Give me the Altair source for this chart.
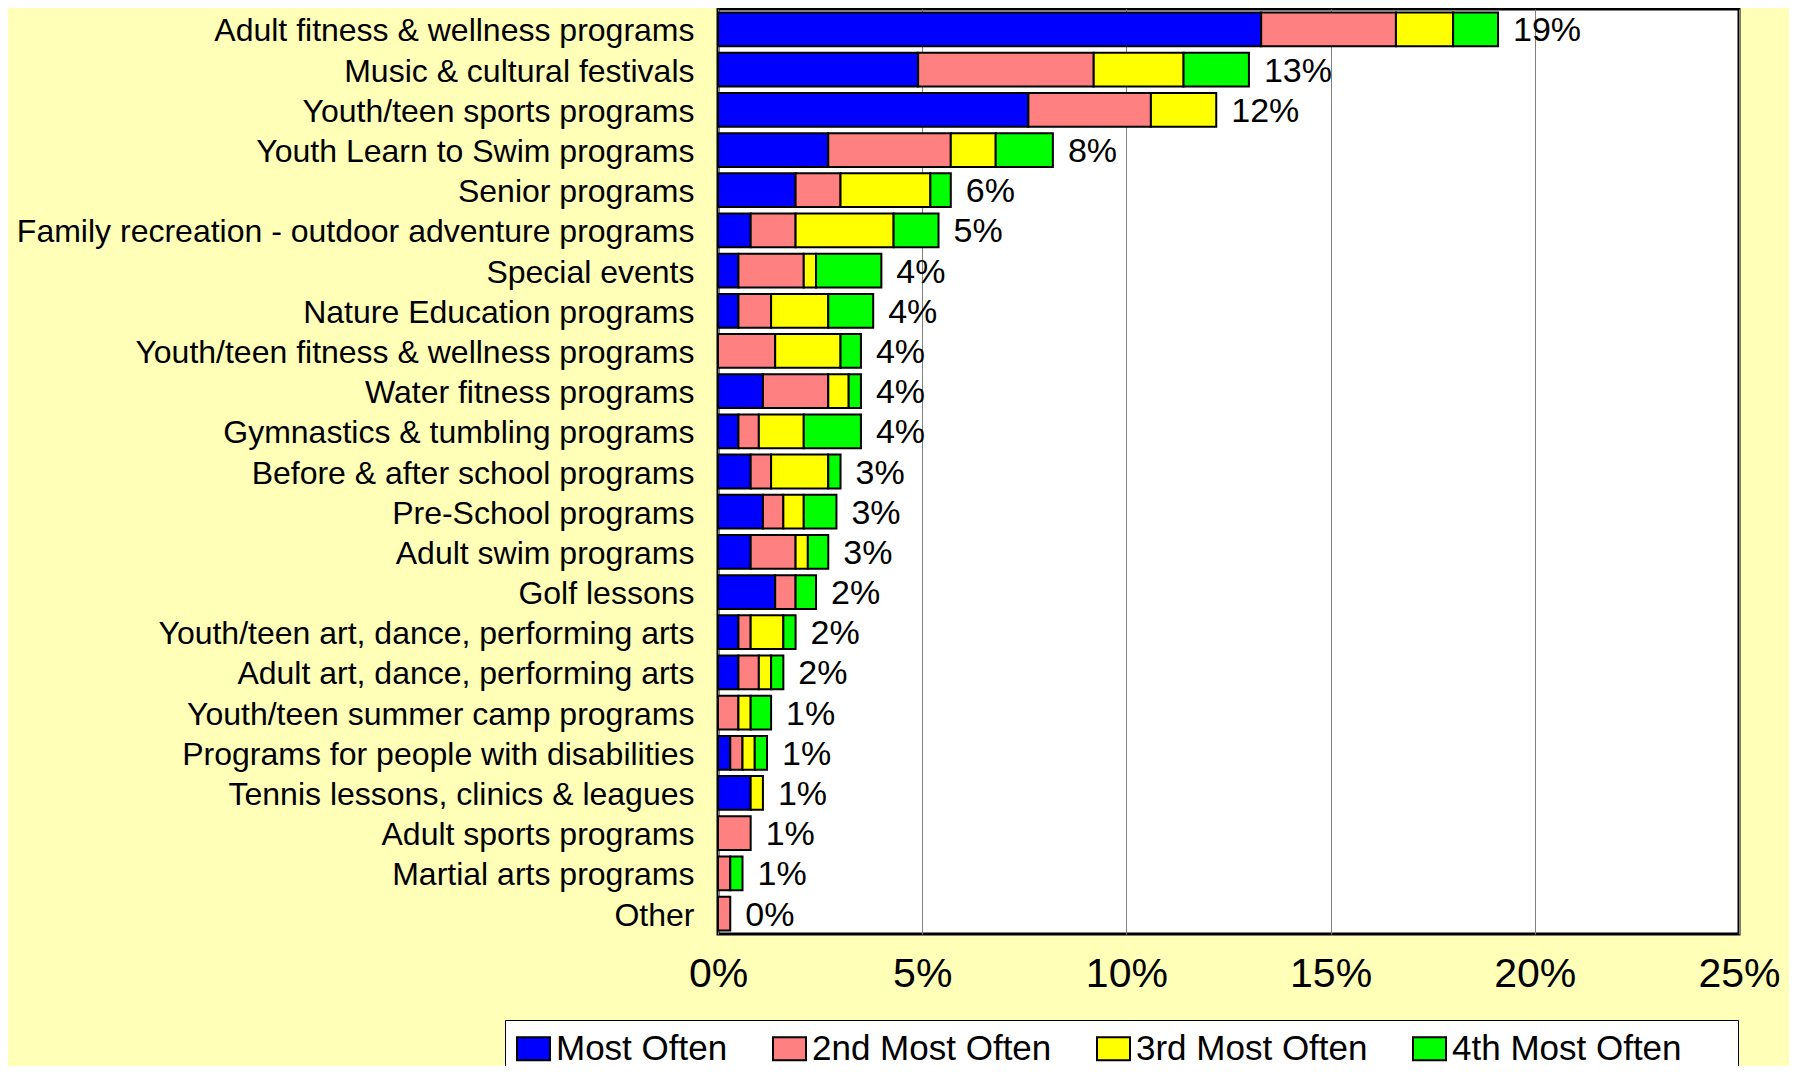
import altair as alt
import pandas as pd

categories = [
    "Adult fitness & wellness programs",
    "Music & cultural festivals",
    "Youth/teen sports programs",
    "Youth Learn to Swim programs",
    "Senior programs",
    "Family recreation - outdoor adventure programs",
    "Special events",
    "Nature Education programs",
    "Youth/teen fitness & wellness programs",
    "Water fitness programs",
    "Gymnastics & tumbling programs",
    "Before & after school programs",
    "Pre-School programs",
    "Adult swim programs",
    "Golf lessons",
    "Youth/teen art, dance, performing arts",
    "Adult art, dance, performing arts",
    "Youth/teen summer camp programs",
    "Programs for people with disabilities",
    "Tennis lessons, clinics & leagues",
    "Adult sports programs",
    "Martial arts programs",
    "Other",
]
series = ["Most Often", "2nd Most Often", "3rd Most Often", "4th Most Often"]
colors = ["#0000FF", "#FF8080", "#FFFF00", "#00FF00"]

most_often = [13.3, 4.9, 7.6, 2.7, 1.9, 0.8, 0.5, 0.5, 0.0, 1.1, 0.5, 0.8, 1.1, 0.8, 1.4, 0.5, 0.5, 0.0, 0.3, 0.8, 0.0, 0.0, 0.0]
second = [3.3, 4.3, 3.0, 3.0, 1.1, 1.1, 1.6, 0.8, 1.4, 1.6, 0.5, 0.5, 0.5, 1.1, 0.5, 0.3, 0.5, 0.5, 0.3, 0.0, 0.8, 0.3, 0.3]
third = [1.4, 2.2, 1.6, 1.1, 2.2, 2.4, 0.3, 1.4, 1.6, 0.5, 1.1, 1.4, 0.5, 0.3, 0.0, 0.8, 0.3, 0.3, 0.3, 0.3, 0.0, 0.0, 0.0]
fourth = [1.1, 1.6, 0.0, 1.4, 0.5, 1.1, 1.6, 1.1, 0.5, 0.3, 1.4, 0.3, 0.8, 0.5, 0.5, 0.3, 0.3, 0.5, 0.3, 0.0, 0.0, 0.3, 0.0]
total_labels = ["19%", "13%", "12%", "8%", "6%", "5%", "4%", "4%", "4%", "4%", "4%", "3%",
                "3%", "3%", "2%", "2%", "2%", "1%", "1%", "1%", "1%", "1%", "0%"]
x_ticks = [0, 5, 10, 15, 20, 25]

rows = []
for s_idx, (name, vals) in enumerate(zip(series, [most_often, second, third, fourth])):
    for cat, v in zip(categories, vals):
        if v > 0:
            rows.append({"program": cat, "series": name, "order": s_idx, "value": v})
df = pd.DataFrame(rows)

totals = [round(a + b + c + d, 2) for a, b, c, d in zip(most_often, second, third, fourth)]
lab = pd.DataFrame({"program": categories, "total": totals, "label": total_labels})

FONT = "Liberation Sans"

y_enc = alt.Y(
    "program:N",
    sort=categories,
    scale=alt.Scale(paddingInner=0.16, paddingOuter=0.09),
    axis=alt.Axis(
        title=None, labelFontSize=32, labelFont=FONT, labelColor="black",
        labelPadding=24, labelOffset=2, ticks=False, tickSize=0, domain=False,
        labelLimit=900,
    ),
)

x_enc = alt.X(
    "value:Q",
    stack="zero",
    scale=alt.Scale(domain=[0, 25], nice=False),
    axis=alt.Axis(
        values=x_ticks, labelExpr="datum.value + '%'", title=None,
        grid=True, gridColor="#808080", gridWidth=1,
        ticks=False, tickSize=0, domain=False, labelFlush=False,
        labelFontSize=41, labelFont=FONT, labelColor="black", labelPadding=20,
    ),
)

bars = alt.Chart(df).mark_bar(stroke="black", strokeWidth=2).encode(
    x=x_enc,
    y=y_enc,
    color=alt.Color(
        "series:N",
        scale=alt.Scale(domain=series, range=colors),
        legend=alt.Legend(
            title=" ", titleOrient="right", titleFontSize=1, titlePadding=45,
            orient="none", legendX=-213, legendY=1011,
            direction="horizontal", columns=4,
            symbolType="M-1,-0.7L1,-0.7L1,0.7L-1,0.7Z", symbolSize=1089,
            symbolStrokeColor="black", symbolStrokeWidth=2,
            labelFontSize=35, labelFont=FONT, labelColor="black",
            labelOffset=5, columnPadding=41, padding=11,
            fillColor="white", strokeColor="black", labelLimit=500,
        ),
    ),
    order=alt.Order("order:Q", sort="ascending"),
)

text = alt.Chart(lab).mark_text(
    align="left", baseline="middle", dx=15, dy=2, fontSize=34, font=FONT, color="black"
).encode(
    x=alt.X("total:Q"),
    y=alt.Y("program:N", sort=categories),
    text="label:N",
)

chart = (
    alt.layer(bars, text)
    .properties(
        width=1021,
        height=925,
        autosize=alt.AutoSizeParams(type="none"),
        padding={"left": 710, "top": 1, "right": 50, "bottom": 132},
        background="#FFFFB8",
    )
    .configure_view(fill="white", stroke="black", strokeWidth=3)
)

chart.save("out.html", embed_options={"renderer": "svg", "actions": False})
